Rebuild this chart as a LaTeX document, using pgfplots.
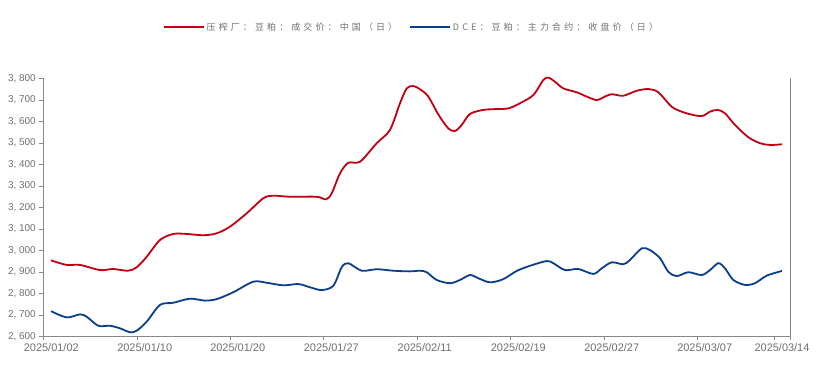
\documentclass[border=0pt]{standalone}
\usepackage{pgfplots}
\pgfplotsset{compat=1.18}
\usepackage{fontspec}
\setmainfont{Liberation Sans}
\newfontfamily\cjk[LetterSpace=35]{Noto Sans CJK SC}
\definecolor{cred}{HTML}{C00010}
\definecolor{cblue}{HTML}{0A3E8C}
\definecolor{axgray}{HTML}{888888}
\definecolor{txgray}{HTML}{707070}
\begin{document}
\begin{tikzpicture}
\path[use as bounding box] (0,0) rectangle (824bp,366bp);
\begin{axis}[
  scale only axis,
  width=746.7bp, height=258bp,
  at={(43.3bp,29.7bp)}, anchor=south west,
  xmin=43.3, xmax=790, ymin=2600, ymax=3800,
  axis x line=bottom, axis y line=left,
  axis line style={axgray, -},
  tick style={axgray, thin},
  tick align=outside,
  major tick length=4bp,
  xtick={43.3,136.7,229.7,323.3,416.7,510.3,603.7,696.7,774},
  xticklabels={2025/01/02,2025/01/10,2025/01/20,2025/01/27,2025/02/11,2025/02/19,2025/02/27,2025/03/07,2025/03/14},
  extra x ticks={790}, extra x tick labels={},
  xticklabel style={xshift=8bp, font=\fontsize{11}{13}\selectfont, text=txgray},
  ytick={2600,2700,2800,2900,3000,3100,3200,3300,3400,3500,3600,3700,3800},
  yticklabels={{2, 600},{2, 700},{2, 800},{2, 900},{3, 000},{3, 100},{3, 200},{3, 300},{3, 400},{3, 500},{3, 600},{3, 700},{3, 800}},
  yticklabel style={font=\fontsize{10}{12}\selectfont, text=txgray},
  legend columns=2,
  legend style={draw=none, fill=none, at={(0.493,1.198)}, anchor=center,
    font=\cjk\fontsize{9}{11}\selectfont, text=txgray,
    /tikz/every even column/.append style={column sep=10bp}},
  legend image code/.code={\draw[#1] (0bp,0bp) -- (40bp,0bp);},
  clip=false,
]
\addplot[cred, line width=1.8bp, smooth, tension=0.5] coordinates {
(51,2953)(66.7,2932)(80,2932)(100,2908)(113,2913)(128,2905)(136.7,2921)(146.7,2970)(160,3048)(173.3,3076)(186.7,3076)(203.3,3070)(216.7,3079)(230,3110)(246.7,3172)(263.3,3242)(273.3,3254)(290,3249)(316.7,3249)(326,3237)(331.7,3265)(340,3358)(348.3,3407)(360,3412)(376.7,3498)(390,3560)(400,3684)(406.7,3753)(413.3,3764)(420,3749)(428.3,3715)(438.3,3632)(448.3,3567)(455,3555)(461.7,3583)(470,3634)(483.3,3653)(496.7,3657)(508.3,3660)(520,3684)(533.3,3722)(543.3,3792)(548.3,3803)(555,3784)(563.3,3753)(576.7,3735)(586.7,3715)(596.7,3699)(605,3715)(611.7,3726)(623.3,3719)(636.7,3742)(648.3,3750)(658.3,3735)(671.7,3668)(683.3,3642)(696.7,3626)(703.3,3626)(710,3645)(717.7,3653)(725,3637)(735,3583)(748.3,3526)(760,3498)(770,3490)(782,3493)
};
\addlegendentry{压榨厂：豆粕：成交价：中国（日）}
\addplot[cblue, line width=1.8bp, smooth, tension=0.5] coordinates {
(51,2717)(66.7,2688)(80,2702)(86.7,2691)(98.3,2649)(110,2649)(120,2637)(130,2619)(136.7,2626)(146.7,2668)(160,2746)(173.3,2756)(190,2775)(205,2766)(216.7,2773)(233.3,2805)(253.3,2854)(266.7,2849)(283.3,2837)(298.3,2843)(310,2828)(321.7,2815)(333.3,2835)(341.7,2921)(348.3,2940)(361.7,2905)(376.7,2912)(393.3,2905)(410,2902)(420,2905)(426.7,2898)(436.7,2862)(450,2847)(460,2862)(470,2885)(478.3,2870)(490,2851)(503.3,2866)(516.7,2904)(530,2928)(546.7,2950)(553.3,2940)(565,2908)(578.3,2913)(593.3,2890)(601.7,2916)(611.7,2944)(623.3,2935)(630,2955)(641.7,3009)(650,3001)(660,2963)(668.3,2900)(676.7,2880)(688.3,2898)(701.7,2885)(710,2908)(718.3,2940)(725,2916)(733.3,2862)(745,2839)(755,2847)(766.7,2882)(782,2904)
};
\addlegendentry{DCE：豆粕：主力合约：收盘价（日）}
\draw[axgray] (rel axis cs:1,0) -- (rel axis cs:1,1);
\end{axis}
\end{tikzpicture}
\end{document}
